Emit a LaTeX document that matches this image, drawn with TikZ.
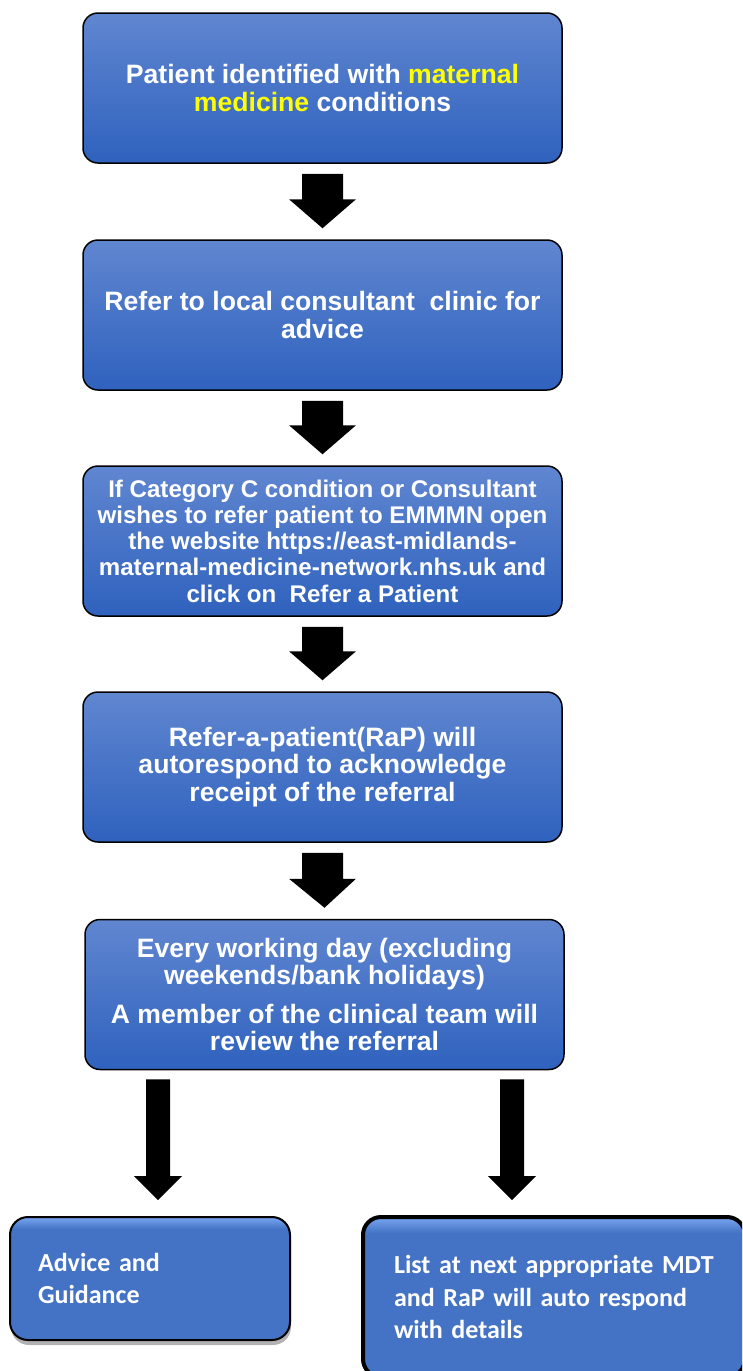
\documentclass[tikz,border=0pt]{standalone}
\usepackage{fontspec}
\setmainfont{Liberation Sans}
\newfontfamily\calib{Carlito}
\usetikzlibrary{shadows,calc}
\definecolor{btop}{HTML}{6086D0}
\definecolor{bbot}{HTML}{2F62BE}
\definecolor{gblue}{HTML}{4472C4}
\definecolor{glight}{HTML}{6E9CE8}
\definecolor{hl}{HTML}{FFFF00}
\pgfdeclareverticalshading{bevelshade}{100bp}{color(0bp)=(gblue); color(25bp)=(gblue); color(70bp)=(gblue); color(74bp)=(glight); color(100bp)=(glight)}
% block arrow from #1 to tip #2; #3 shaft half width, #4 head half width, #5 head length
\newcommand{\blockarr}[5]{%
  \fill[black] let \p1=(#1), \p2=(#2) in
    (\x1-#3,\y1) -- (\x1+#3,\y1) -- (\x1+#3,\y2+#5) -- (\x1+#4,\y2+#5)
    -- (\x2,\y2) -- (\x1-#4,\y2+#5) -- (\x1-#3,\y2+#5) -- cycle;}
\begin{document}
\begin{tikzpicture}[x=1pt,y=-1pt,
  mainbox/.style={draw=black, line width=1.5pt, rounded corners=15pt,
    top color=btop, bottom color=bbot, minimum width=479pt, minimum height=150pt,
    text=white, font=\bfseries\fontsize{26.6}{28}\selectfont, align=center,
    inner sep=0pt},
  smallbox/.style={draw=black, rounded corners=18pt, shading=bevelshade,
    text=white, font=\calib\bfseries\fontsize{26}{32.5}\selectfont, align=left,
    inner ysep=0pt,
    drop shadow={shadow xshift=1pt, shadow yshift=-5pt, opacity=0.3, fill=black}}
]
\useasboundingbox (0,0) rectangle (742,1371);
\clip (0,0) rectangle (742,1371);

\node[mainbox] (b1) at (322.5,88) {Patient identified with \textcolor{hl}{maternal}\\ \textcolor{hl}{medicine} conditions};
\node[mainbox] (b2) at (322.5,315) {Refer to local consultant\ \ clinic for\\ advice};
\node[mainbox, font=\bfseries\fontsize{24.1}{26.2}\selectfont] (b3) at (322.5,541) {If Category C condition or Consultant\\ wishes to refer patient to EMMMN open\\ the website https://east-midlands-\\ maternal-medicine-network.nhs.uk and\\ click on\ \ Refer a Patient};
\node[mainbox, font=\bfseries\fontsize{26.6}{27.5}\selectfont] (b4) at (322.5,767) {Refer-a-patient(RaP) will\\ autorespond to acknowledge\\ receipt of the referral};
\node[mainbox, font=\bfseries\fontsize{26.6}{27}\selectfont] (b5) at (324.5,994.5) {Every working day (excluding\\ weekends/bank holidays)\\[12pt] A member of the clinical team will\\ review the referral};

\node[smallbox, line width=2pt, minimum width=280pt, minimum height=123pt,
  text width=224pt, inner xsep=28pt] (b6) at (150,1278.5) {Advice and\\ Guidance};
\node[smallbox, line width=4pt, minimum width=382pt, minimum height=160pt,
  text width=320pt, inner xsep=31pt] (b7) at (554,1297) {List at next appropriate MDT\\ and RaP will auto respond\\ with details};

\blockarr{$(b1.south)+(0,10)$}{$(b2.north)+(0,-11)$}{20.5pt}{33.5pt}{29pt}
\blockarr{$(b2.south)+(0,10)$}{$(b3.north)+(0,-11)$}{20.5pt}{33.5pt}{29pt}
\blockarr{$(b3.south)+(0,10)$}{$(b4.north)+(0,-11)$}{20.5pt}{33.5pt}{29pt}
\blockarr{$(b4.south)+(0,10)$}{$(b5.north)+(0,-11)$}{20.5pt}{33.5pt}{29pt}

\coordinate (tL) at (158,1200);
\coordinate (tR) at (512,1200);
\blockarr{$(b5.south -| tL)+(0,9)$}{tL}{12pt}{24pt}{24pt}
\blockarr{$(b5.south -| tR)+(0,9)$}{tR}{12pt}{24pt}{24pt}
\end{tikzpicture}
\end{document}
